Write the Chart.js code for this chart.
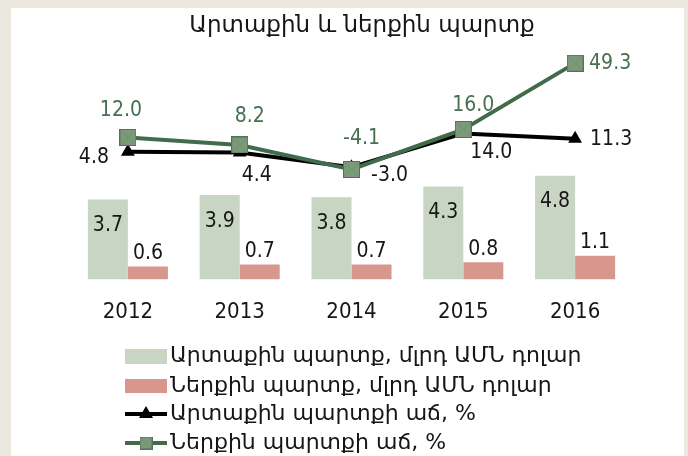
<!DOCTYPE html>
<html lang="hy">
<head>
<meta charset="UTF-8" />
<title>Արտաքին և ներքին պարտք</title>
<script src="https://cdn.jsdelivr.net/npm/chart.js"></script>
<style>
  * { margin: 0; padding: 0; box-sizing: border-box; }
  body { width: 688px; height: 456px; background: #ebe9df; overflow: hidden; position: relative; }
  .panel { position: absolute; left: 11px; top: 8px; width: 673px; height: 448px; background: #ffffff; }
  canvas { display: block; }
</style>
</head>
<body>
<div class="panel"><canvas id="debtChart" width="673" height="448"></canvas></div>
<script>
const chartTitle = "Արտաքին և ներքին պարտք";
const years = ["2012", "2013", "2014", "2015", "2016"];
const externalDebt = [3.7, 3.9, 3.8, 4.3, 4.8];
const domesticDebt = [0.6, 0.7, 0.7, 0.8, 1.1];
const externalGrowth = [4.8, 4.4, -3.0, 14.0, 11.3];
const domesticGrowth = [12.0, 8.2, -4.1, 16.0, 49.3];
const seriesNames = [
  "Արտաքին պարտք, մլրդ ԱՄՆ դոլար",
  "Ներքին պարտք, մլրդ ԱՄՆ դոլար",
  "Արտաքին պարտքի աճ, %",
  "Ներքին պարտքի աճ, %"
];

const GREEN_BAR = "#c8d5c3";
const PINK_BAR = "#d9968d";
const GREEN_LINE = "#416c4b";
const GREEN_TEXT = "#46704f";
const TEXT = "#161616";
const ARM_FONT = '"DejaVu Sans", sans-serif';
const NUM_FONT = '"DejaVu Sans Condensed", "DejaVu Sans", sans-serif';

// label placement, offset from the point (dx, dy, align)
const domesticLabelPos = [[-7, -27, "center"], [10, -28, "center"], [10, -31, "center"], [10, -24, "center"], [14, 0, "left"]];
const externalLabelPos = [[-19, 6, "right"], [17, 23, "center"], [38, 8, "center"], [28, 19, "center"], [15, 1, "left"]];

function squareMarker(size) {
  const c = document.createElement("canvas");
  c.width = size;
  c.height = size;
  const g = c.getContext("2d");
  g.fillStyle = "#7f987c";
  g.fillRect(0, 0, size, size);
  g.strokeStyle = "#4f7556";
  g.lineWidth = 1;
  g.strokeRect(0.5, 0.5, size - 1, size - 1);
  g.strokeStyle = "#5f9a5f";
  g.beginPath();
  g.moveTo(2, 2); g.lineTo(size - 2, size - 2);
  g.moveTo(size - 2, 2); g.lineTo(2, size - 2);
  g.stroke();
  return c;
}
const bigSquare = squareMarker(17);
const smallSquare = squareMarker(13);

function put(ctx, text, x, y, align, color, font) {
  ctx.font = font;
  ctx.fillStyle = color;
  ctx.textAlign = align;
  ctx.textBaseline = "middle";
  ctx.fillText(text, x, y);
}

const annotate = {
  id: "annotate",
  afterDatasetsDraw(chart) {
    const ctx = chart.ctx;
    const numFont = "21px " + NUM_FONT;
    ctx.save();
    chart.getDatasetMeta(0).data.forEach((bar, i) => {
      put(ctx, externalDebt[i].toFixed(1), bar.x, bar.y + 26, "center", TEXT, numFont);
    });
    chart.getDatasetMeta(1).data.forEach((bar, i) => {
      put(ctx, domesticDebt[i].toFixed(1), bar.x, bar.y - 13, "center", TEXT, numFont);
    });
    chart.getDatasetMeta(2).data.forEach((pt, i) => {
      const p = externalLabelPos[i];
      put(ctx, externalGrowth[i].toFixed(1), pt.x + p[0], pt.y + p[1], p[2], TEXT, numFont);
    });
    chart.getDatasetMeta(3).data.forEach((pt, i) => {
      const p = domesticLabelPos[i];
      put(ctx, domesticGrowth[i].toFixed(1), pt.x + p[0], pt.y + p[1], p[2], GREEN_TEXT, numFont);
    });
    ctx.restore();
  },
  afterDraw(chart) {
    const ctx = chart.ctx;
    ctx.save();
    put(ctx, chartTitle, 351, 18, "center", TEXT, "23px " + ARM_FONT);

    // legend
    const x0 = 114, x1 = 156, tx = 159;
    const rows = [348, 378, 406, 435];
    const legFont = "22px " + ARM_FONT;
    ctx.fillStyle = GREEN_BAR;
    ctx.fillRect(x0, rows[0] - 7, x1 - x0, 15);
    ctx.fillStyle = PINK_BAR;
    ctx.fillRect(x0, rows[1] - 7, x1 - x0, 14);

    ctx.lineWidth = 4;
    ctx.strokeStyle = "#000";
    ctx.beginPath(); ctx.moveTo(x0, rows[2]); ctx.lineTo(x1, rows[2]); ctx.stroke();
    ctx.fillStyle = "#000";
    ctx.beginPath();
    ctx.moveTo((x0 + x1) / 2, rows[2] - 8);
    ctx.lineTo((x0 + x1) / 2 + 7, rows[2] + 4);
    ctx.lineTo((x0 + x1) / 2 - 7, rows[2] + 4);
    ctx.closePath(); ctx.fill();

    ctx.strokeStyle = GREEN_LINE;
    ctx.beginPath(); ctx.moveTo(x0, rows[3]); ctx.lineTo(x1, rows[3]); ctx.stroke();
    ctx.drawImage(smallSquare, (x0 + x1) / 2 - 6.5, rows[3] - 6.5);

    seriesNames.forEach((name, i) => put(ctx, name, tx, rows[i], "left", TEXT, legFont));
    ctx.restore();
  }
};

const ctx = document.getElementById("debtChart").getContext("2d");
new Chart(ctx, {
  type: "bar",
  data: {
    labels: years,
    datasets: [
      {
        label: seriesNames[0],
        data: externalDebt,
        backgroundColor: GREEN_BAR,
        yAxisID: "y",
        order: 2
      },
      {
        label: seriesNames[1],
        data: domesticDebt,
        backgroundColor: PINK_BAR,
        yAxisID: "y",
        order: 2
      },
      {
        type: "line",
        label: seriesNames[2],
        data: externalGrowth,
        borderColor: "#000",
        backgroundColor: "#000",
        borderWidth: 4,
        pointStyle: "triangle",
        pointRadius: 8,
        pointBorderWidth: 0,
        tension: 0,
        clip: false,
        yAxisID: "y2",
        order: 1
      },
      {
        type: "line",
        label: seriesNames[3],
        data: domesticGrowth,
        borderColor: GREEN_LINE,
        backgroundColor: GREEN_LINE,
        borderWidth: 4,
        pointStyle: bigSquare,
        tension: 0,
        clip: false,
        yAxisID: "y2",
        order: 0
      }
    ]
  },
  options: {
    responsive: false,
    animation: false,
    layout: { padding: { left: 61, right: 53, top: 42, bottom: 112 } },
    datasets: {
      bar: { barPercentage: 1, categoryPercentage: 0.716 }
    },
    plugins: {
      legend: { display: false },
      title: { display: false },
      tooltip: { enabled: false }
    },
    scales: {
      x: {
        grid: { display: false, drawTicks: false },
        border: { display: false },
        ticks: { color: TEXT, padding: 19, font: { family: NUM_FONT, size: 22 } }
      },
      y: { display: false, min: 0, max: 10.6 },
      y2: { display: false, min: -59.4, max: 55.9 }
    }
  },
  plugins: [annotate]
});
</script>
</body>
</html>
